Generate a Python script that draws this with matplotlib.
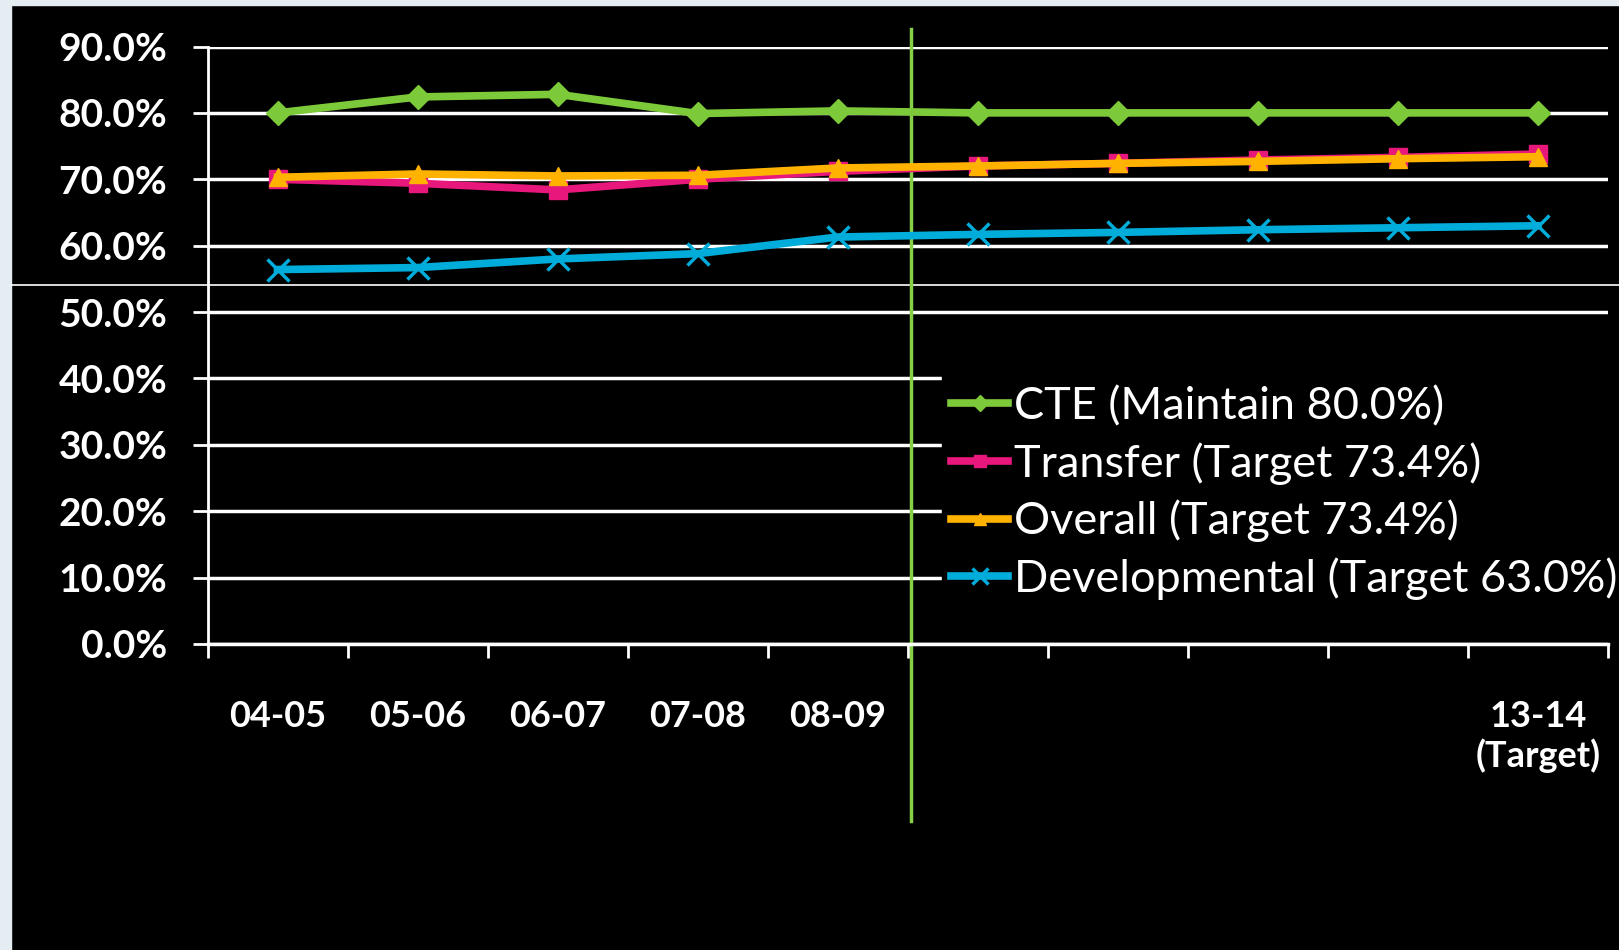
import matplotlib.pyplot as plt
from matplotlib.patches import Rectangle
from matplotlib.lines import Line2D

# categories and series (percent)
years = ['04-05', '05-06', '06-07', '07-08', '08-09', '09-10', '10-11', '11-12', '12-13', '13-14']
tick_labels = ['04-05', '05-06', '06-07', '07-08', '08-09', '', '', '', '', '13-14\n(Target)']
cte = [80.0, 82.4, 82.8, 79.9, 80.3, 80.0, 80.0, 80.0, 80.0, 80.0]
transfer = [70.0, 69.4, 68.4, 70.0, 71.2, 72.0, 72.4, 72.9, 73.3, 73.8]
overall = [70.3, 70.8, 70.5, 70.6, 71.7, 72.0, 72.4, 72.7, 73.1, 73.4]
developmental = [56.4, 56.7, 58.0, 58.8, 61.3, 61.7, 62.0, 62.4, 62.7, 63.0]
y_ticks = [0, 10, 20, 30, 40, 50, 60, 70, 80, 90]

W, H = 1619, 950
fig = plt.figure(figsize=(W / 100, H / 100), dpi=100)
fig.patch.set_facecolor('black')

# light slide background peeking through at left and top
fig.add_artist(Rectangle((0, 0), 11 / W, 1, transform=fig.transFigure, color='#e4edf1', zorder=0))
fig.add_artist(Rectangle((0, 1 - 5 / H), 1, 5 / H, transform=fig.transFigure, color='#e4edf1', zorder=0))
# thin seam line across the slide
fig.add_artist(Line2D([11 / W, 1], [1 - 285 / H] * 2, transform=fig.transFigure, color='white', lw=1.2, zorder=0))

ax = fig.add_axes([207.5 / W, 1 - 644 / H, (1608 - 207.5) / W, (644 - 46.5) / H])
ax.set_facecolor('none')

x = list(range(len(years)))
ax.plot(x, cte, color='#7cca3a', lw=5.5, marker='D', ms=12, label='CTE (Maintain 80.0%)', zorder=3)
ax.plot(x, transfer, color='#e7177c', lw=5.5, marker='s', ms=13, label='Transfer (Target 73.4%)', zorder=4)
ax.plot(x, overall, color='#ffb200', lw=5.5, marker='^', ms=13, label='Overall (Target 73.4%)', zorder=5)
ax.plot(x, developmental, color='#00acd9', lw=5.5, marker='x', ms=16, mew=2.5,
        label='Developmental (Target 63.0%)', zorder=6)

ax.set_xlim(-0.5, len(years) - 0.5)
ax.set_ylim(0, 90)
ax.set_yticks(y_ticks)
ax.set_yticklabels(['%.1f%%' % v for v in y_ticks])
ax.yaxis.grid(True, color='white', lw=2.5)
ax.set_axisbelow(True)

ax.set_xticks([i - 0.5 for i in range(len(years) + 1)], minor=False)
ax.set_xticklabels([])
ax.set_xticks(x, minor=True)
ax.set_xticklabels(tick_labels, minor=True)
ax.tick_params(axis='x', which='major', length=10, width=2, color='white', direction='out')
ax.tick_params(axis='x', which='minor', length=0, pad=40)
ax.tick_params(axis='y', length=11, width=2, color='white', pad=18)

for lab in ax.get_yticklabels():
    lab.set_fontfamily('Lato')
    lab.set_fontweight('bold')
    lab.set_fontsize(28)
    lab.set_color('white')
for lab in ax.get_xticklabels(minor=True):
    lab.set_fontfamily('Lato')
    lab.set_fontweight('bold')
    lab.set_fontsize(26)
    lab.set_color('white')
    lab.set_verticalalignment('top')

for s in ['top', 'right']:
    ax.spines[s].set_visible(False)
ax.spines['left'].set_color('white')
ax.spines['left'].set_linewidth(2)
ax.spines['bottom'].set_color('white')
ax.spines['bottom'].set_linewidth(2.5)

# divider between actuals and projection
ax.axvline(4.525, ymin=-0.296, ymax=1.029, color='#86d048', lw=2.5, clip_on=False, zorder=2)

# black block behind the legend hides the gridlines there
ax.add_patch(Rectangle((942 / W, 1 - 610 / H), 1 - 942 / W, 270 / H, transform=fig.transFigure,
                       color='black', zorder=2.5, clip_on=False))

leg = ax.legend(loc='upper left', bbox_to_anchor=(951 / W, 1 - 386 / H), bbox_transform=fig.transFigure,
                prop={'family': 'Lato', 'size': 32.5}, frameon=False,
                handlelength=1.27, handletextpad=0.13, labelspacing=0.33, borderpad=0,
                borderaxespad=0, markerscale=0.7)
for t in leg.get_texts():
    t.set_color('white')
leg.set_zorder(7)

fig.savefig('out.png', dpi=100, facecolor=fig.get_facecolor())
